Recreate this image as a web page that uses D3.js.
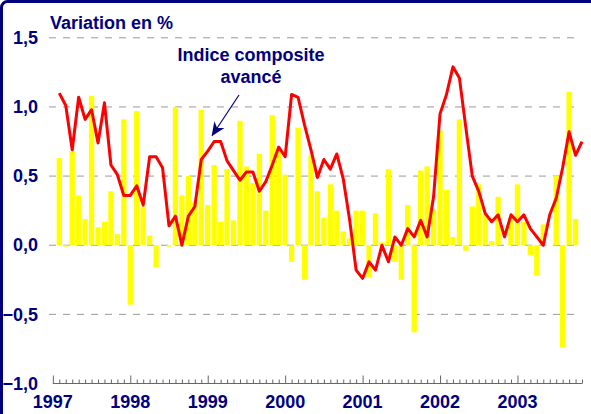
<!DOCTYPE html>
<html>
<head>
<meta charset="utf-8">
<script src="https://cdn.jsdelivr.net/npm/d3@7"></script>
<style>
  body { margin: 0; background: #fff; }
  text { font-family: "Liberation Sans", Arial, sans-serif; font-weight: bold; }
</style>
</head>
<body>
<script>
// year labels, placed on the January of each year (month index from Jan 1997)
const years = ["1997", "1998", "1999", "2000", "2001", "2002", "2003"];

// monthly variation (yellow bars), Feb 1997 .. Oct 2003
const barValues = [
  0.63, -0.01, 0.68, 0.36, 0.19, 1.08, 0.13, 0.17, 0.39, 0.08, 0.91,
  -0.43, 0.97, 0.28, 0.07, -0.16, 0.00, -0.01, 1.00, 0.36, 0.50, 0.31, 0.98,
  0.29, 0.58, 0.17, 0.55, 0.18, 0.90, 0.57, 0.45, 0.66, 0.25, 0.94, 0.68,
  0.51, -0.12, 0.85, -0.25, 0.65, 0.39, 0.20, 0.44, 0.25, 0.10, 0.05, 0.25,
  0.25, -0.23, 0.23, 0.02, 0.55, -0.12, -0.25, 0.29, -0.63, 0.54, 0.57, 0.26,
  0.83, 0.40, 0.06, 0.91, -0.04, 0.28, 0.44, 0.23, 0.03, 0.35, 0.00, 0.20,
  0.44, 0.17, -0.07, -0.22, 0.15, 0.00, 0.50, -0.74, 1.11, 0.19
];

// indice composite avancé (red line), Feb 1997 .. Nov 2003
const lineValues = [
  1.10, 1.01, 0.69, 1.07, 0.91, 0.98, 0.74, 1.03, 0.58, 0.51, 0.36,
  0.36, 0.43, 0.29, 0.64, 0.64, 0.56, 0.14, 0.21, 0.00, 0.21, 0.28, 0.62,
  0.68, 0.75, 0.75, 0.61, 0.54, 0.47, 0.53, 0.53, 0.39, 0.46, 0.58, 0.71,
  0.64, 1.09, 1.07, 0.87, 0.69, 0.49, 0.62, 0.55, 0.66, 0.48, 0.18, -0.18,
  -0.24, -0.12, -0.18, 0.00, -0.12, 0.06, 0.00, 0.12, 0.06, 0.18, 0.06, 0.35,
  0.95, 1.09, 1.29, 1.21, 0.85, 0.50, 0.39, 0.23, 0.17, 0.22, 0.06, 0.22,
  0.17, 0.22, 0.12, 0.06, 0.00, 0.22, 0.34, 0.56, 0.82, 0.65, 0.75
];

const yTicks = [-1, -0.5, 0, 0.5, 1, 1.5];

const width = 591, height = 414;
const navy = "#000080";

const svg = d3.select("body").append("svg")
  .attr("width", width)
  .attr("height", height);

// frame
svg.append("rect")
  .attr("x", 1.5).attr("y", 1.5)
  .attr("width", width + 10).attr("height", height + 10)
  .attr("rx", 6)
  .attr("fill", "none")
  .attr("stroke", navy)
  .attr("stroke-width", 3);

const x = d3.scaleLinear().domain([0, 82]).range([52.85, 582]);
const y = d3.scaleLinear().domain([-1, 1.5]).range([383.5, 37.8]);

const fr = d3.formatLocale({decimal: ",", thousands: " ", grouping: [3], currency: ["", "€"]});
const fmt = fr.format(".1f");

// dashed grid
svg.append("g")
  .selectAll("line")
  .data(yTicks.filter(d => d > -1))
  .join("line")
  .attr("x1", 49).attr("x2", 580)
  .attr("y1", d => y(d)).attr("y2", d => y(d))
  .attr("stroke", "#999")
  .attr("stroke-width", 1)
  .attr("stroke-dasharray", "7,7");

// y labels
const yAxis = svg.append("g")
  .attr("transform", "translate(38,0)")
  .call(d3.axisLeft(y).tickValues(yTicks).tickSize(0).tickPadding(0).tickFormat(d => fmt(d)));
yAxis.select(".domain").remove();
yAxis.selectAll("text")
  .attr("fill", navy)
  .style("font-size", "18px")
  .style("font-family", "Liberation Sans, Arial, sans-serif");

// bars
const bw = 5.3;
svg.append("g")
  .selectAll("rect")
  .data(barValues)
  .join("rect")
  .attr("x", (d, i) => x(i + 1) - bw / 2)
  .attr("width", bw)
  .attr("y", d => y(Math.max(0, d)))
  .attr("height", d => Math.abs(y(d) - y(0)))
  .attr("fill", "#ffff00");

// line
const line = d3.line()
  .x((d, i) => x(i + 1))
  .y(d => y(d));

svg.append("path")
  .datum(lineValues)
  .attr("d", line)
  .attr("fill", "none")
  .attr("stroke", "#ff0000")
  .attr("stroke-width", 3)
  .attr("stroke-linejoin", "round");

// x axis: month ticks, longer ticks on January
const months = d3.range(0, 83);
const xAxis = svg.append("g")
  .attr("transform", `translate(0,${y(-1)})`)
  .call(d3.axisBottom(x).tickValues(months).tickSizeInner(-4).tickSizeOuter(0).tickFormat(""));
xAxis.select(".domain").attr("stroke", "#666").attr("d", `M${x(0)},0H${x(82)}`);
xAxis.selectAll(".tick line")
  .attr("stroke", "#666")
  .attr("y2", d => d % 12 === 0 ? -8 : -4);

svg.append("g")
  .selectAll("text")
  .data(years)
  .join("text")
  .attr("x", (d, i) => x(i * 12))
  .attr("y", 408)
  .attr("text-anchor", "middle")
  .attr("fill", navy)
  .style("font-size", "18px")
  .text(d => d);

// titles
svg.append("text")
  .attr("x", 50).attr("y", 29)
  .attr("fill", navy)
  .style("font-size", "18px")
  .text("Variation en %");

const ann = svg.append("text")
  .attr("text-anchor", "middle")
  .attr("fill", navy)
  .style("font-size", "18px");
ann.append("tspan").attr("x", 251).attr("y", 61).text("Indice composite");
ann.append("tspan").attr("x", 251).attr("y", 83).text("avancé");

// arrow
svg.append("defs").append("marker")
  .attr("id", "head")
  .attr("viewBox", "0 0 14 12")
  .attr("refX", 13).attr("refY", 6)
  .attr("markerWidth", 14).attr("markerHeight", 12)
  .attr("markerUnits", "userSpaceOnUse")
  .attr("orient", "auto")
  .append("path")
  .attr("d", "M0,0L14,6L0,12L4,6Z")
  .attr("fill", navy);

svg.append("line")
  .attr("x1", 239).attr("y1", 95)
  .attr("x2", x(25) - 2).attr("y2", y(0.75) - 6)
  .attr("stroke", navy)
  .attr("stroke-width", 1.2)
  .attr("marker-end", "url(#head)");
</script>
</body>
</html>
